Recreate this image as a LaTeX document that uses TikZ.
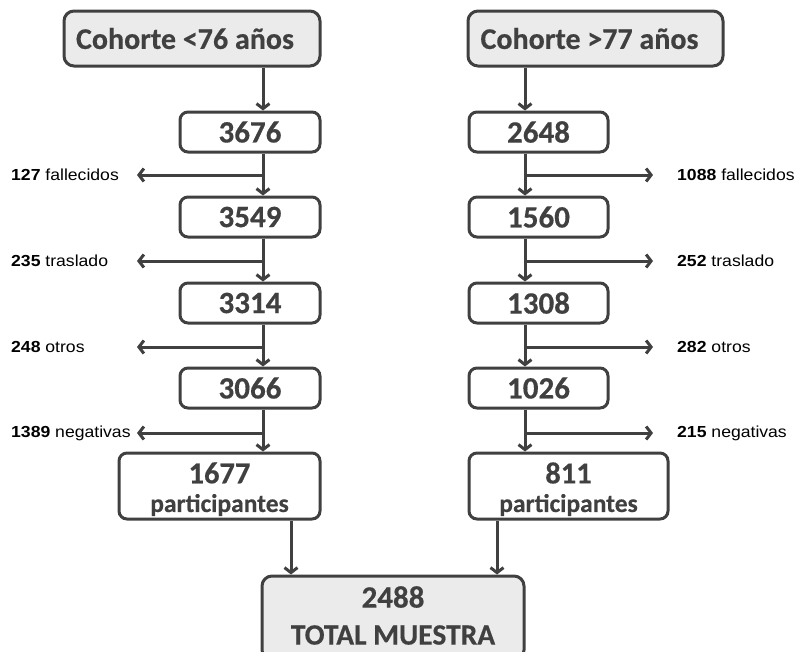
\documentclass[tikz,border=0pt]{standalone}
\usepackage{fontspec}
\setmainfont{Carlito}[BoldFeatures={FakeBold=0.4}]
\newfontfamily\lab[FakeStretch=1.1]{Liberation Sans}
\usetikzlibrary{arrows.meta}
\definecolor{ink}{HTML}{404040}
\definecolor{boxgray}{HTML}{EBEBEB}
\tikzset{
  box/.style={draw=ink, line width=3pt, rounded corners=8pt, fill=white, text=ink,
    font=\bfseries\fontsize{31}{33}\selectfont, inner sep=0pt, align=center},
  graybox/.style={box, fill=boxgray, rounded corners=10pt},
  boxtext/.style={text=ink, inner sep=0pt},
  arr/.style={draw=ink, line width=3pt, -{Straight Barb[length=5pt,width=13pt,line width=3pt]}},
  side/.style={inner sep=0pt, text=black, font=\lab\fontsize{16}{18}\selectfont}
}
\begin{document}
\begin{tikzpicture}[x=1pt,y=-1pt]
\useasboundingbox (0,0) rectangle (799,651);
\clip (0,0) rectangle (799,651);
% top boxes
\node[graybox, minimum width=256pt, minimum height=55pt, font=\bfseries\fontsize{30}{32}\selectfont] (cA) at (192,38.5) {Cohorte <76 años\hspace{14pt}};
\node[graybox, minimum width=255pt, minimum height=55pt, font=\bfseries\fontsize{30}{32}\selectfont] (cB) at (595.5,38.5) {Cohorte >77 años\hspace{12pt}};
% left column
\node[box, minimum width=140pt, minimum height=40pt] (a1) at (250,132) {3676};
\node[box, minimum width=140pt, minimum height=40pt] (a2) at (250,217) {3549};
\node[box, minimum width=140pt, minimum height=40pt] (a3) at (250,303) {3314};
\node[box, minimum width=140pt, minimum height=40pt] (a4) at (250,388) {3066};
\node[box, minimum width=201pt, minimum height=66pt] (a5) at (219.5,486) {};
\node[boxtext, font=\bfseries\fontsize{30.5}{32}\selectfont] (a5n) at (219.5,473) {1677};
\node[boxtext, font=\bfseries\fontsize{25.5}{30}\selectfont] (a5t) at (219.5,505) {participantes};
% right column
\node[box, minimum width=139pt, minimum height=40pt] (b1) at (538.5,132) {2648};
\node[box, minimum width=139pt, minimum height=40pt] (b2) at (538.5,217) {1560};
\node[box, minimum width=139pt, minimum height=40pt] (b3) at (538.5,303) {1308};
\node[box, minimum width=139pt, minimum height=40pt] (b4) at (538.5,388) {1026};
\node[box, minimum width=199pt, minimum height=66pt] (b5) at (568.5,486) {};
\node[boxtext, font=\bfseries\fontsize{30.5}{32}\selectfont] (b5n) at (568.5,473) {811};
\node[boxtext, font=\bfseries\fontsize{25.5}{30}\selectfont] (b5t) at (568.5,505) {participantes};
% total
\node[graybox, minimum width=262pt, minimum height=84pt] (tot) at (393,618) {};
\node[boxtext, font=\bfseries\fontsize{31}{33}\selectfont] (totn) at (393,597) {2488};
\node[boxtext, font=\bfseries\fontsize{29.5}{32}\selectfont] (tott) at (393,635) {TOTAL MUESTRA};
% trunk and tip coordinates
\coordinate (xa) at (263,0);
\coordinate (xb) at (525,0);
\coordinate (ta) at (137,0);
\coordinate (tb) at (653,0);
% left side labels
\node[side, anchor=west] (la1) at (11,175) {\textbf{127} fallecidos};
\node[side, anchor=west] (la2) at (11,261) {\textbf{235} traslado};
\node[side, anchor=west] (la3) at (11,347) {\textbf{248} otros};
\node[side, anchor=west] (la4) at (11,433) {\textbf{1389} negativas};
% right side labels
\node[side, anchor=west] (lb1) at (677,175) {\textbf{1088} fallecidos};
\node[side, anchor=west] (lb2) at (677,261) {\textbf{252} traslado};
\node[side, anchor=west] (lb3) at (677,347) {\textbf{282} otros};
\node[side, anchor=west] (lb4) at (677,433) {\textbf{215} negativas};
% branch points
\coordinate (pa1) at (263,175); \coordinate (pa2) at (263,261);
\coordinate (pa3) at (263,347); \coordinate (pa4) at (263,433);
\coordinate (pb1) at (525,175); \coordinate (pb2) at (525,261);
\coordinate (pb3) at (525,347); \coordinate (pb4) at (525,433);
% vertical arrows left
\draw[arr] (cA.south -| xa) -- (a1.north -| xa);
\draw[arr] (a1.south -| xa) -- (a2.north -| xa);
\draw[arr] (a2.south -| xa) -- (a3.north -| xa);
\draw[arr] (a3.south -| xa) -- (a4.north -| xa);
\draw[arr] (a4.south -| xa) -- (a5.north -| xa);
% vertical arrows right
\draw[arr] (cB.south -| xb) -- (b1.north -| xb);
\draw[arr] (b1.south -| xb) -- (b2.north -| xb);
\draw[arr] (b2.south -| xb) -- (b3.north -| xb);
\draw[arr] (b3.south -| xb) -- (b4.north -| xb);
\draw[arr] (b4.south -| xb) -- (b5.north -| xb);
% side arrows
\draw[arr] (pa1) -- (la1.east -| ta);
\draw[arr] (pa2) -- (la2.east -| ta);
\draw[arr] (pa3) -- (la3.east -| ta);
\draw[arr] (pa4) -- (la4.east -| ta);
\draw[arr] (pb1) -- (lb1.west -| tb);
\draw[arr] (pb2) -- (lb2.west -| tb);
\draw[arr] (pb3) -- (lb3.west -| tb);
\draw[arr] (pb4) -- (lb4.west -| tb);
% to total
\coordinate (xc) at (291,0);
\coordinate (xd) at (497,0);
\draw[arr] (a5.south -| xc) -- (tot.north -| xc);
\draw[arr] (b5.south -| xd) -- (tot.north -| xd);
\end{tikzpicture}
\end{document}
